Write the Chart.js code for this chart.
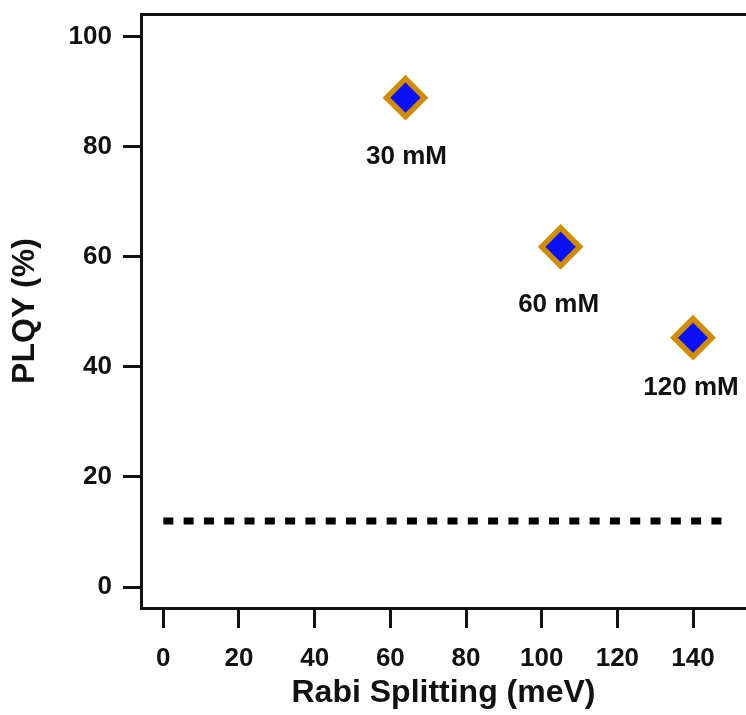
<!DOCTYPE html>
<html>
<head>
<meta charset="utf-8">
<script src="https://cdn.jsdelivr.net/npm/chart.js@4"></script>
<style>
  body { margin: 0; background: #fff; }
  canvas { display: block; }
</style>
</head>
<body>
<canvas id="plqyChart" width="746" height="715"></canvas>
<script>
const rabiSplitting = [64, 105, 140];
const plqy = [88.9, 61.8, 45.3];
const concentrations = ['30 mM', '60 mM', '120 mM'];

const referenceX = [0, 150];
const referenceY = [12, 12];

const xTicks = [0, 20, 40, 60, 80, 100, 120, 140];
const yTicks = [0, 20, 40, 60, 80, 100];

const fontFamily = 'Arial, "Liberation Sans", sans-serif';
const ink = '#111';

// where each concentration text sits relative to its diamond, in px
const labelShift = [[1, 59], [-2, 58], [-2, 50]];

const toPoints = (xs, ys) => xs.map((x, i) => ({ x, y: ys[i] }));
const fixTicks = (values) => (scale) => { scale.ticks = values.map((value) => ({ value })); };

// force the axis boxes so the plot frame lands where the picture has it
const fitBox = (size) => (scale) => {
  if (scale.isHorizontal()) scale.height = size;
  else scale.width = size;
  scale.paddingTop = 0;
  scale.paddingBottom = 0;
  scale.paddingLeft = 0;
  scale.paddingRight = 0;
};

const pointLabels = {
  id: 'pointLabels',
  afterDatasetsDraw(chart) {
    const { ctx } = chart;
    const meta = chart.getDatasetMeta(1);
    ctx.save();
    ctx.font = `bold 26px ${fontFamily}`;
    ctx.fillStyle = ink;
    ctx.textAlign = 'center';
    ctx.textBaseline = 'middle';
    meta.data.forEach((el, i) => {
      const [dx, dy] = labelShift[i];
      ctx.fillText(concentrations[i], el.x + dx, el.y + dy);
    });
    ctx.restore();
  },
};

new Chart(document.querySelector('#plqyChart'), {
  type: 'scatter',
  data: {
    datasets: [{
      type: 'line',
      data: toPoints(referenceX, referenceY),
      borderColor: '#000',
      borderWidth: 7,
      borderDash: [10, 10.3],
      borderCapStyle: 'butt',
      pointRadius: 0,
      fill: false,
    }, {
      data: toPoints(rabiSplitting, plqy),
      pointStyle: 'rectRot',
      pointRadius: 19,
      pointHoverRadius: 19,
      pointBorderWidth: 5.5,
      backgroundColor: '#0C10F8',
      borderColor: '#CF8C00',
    }],
  },
  options: {
    responsive: false,
    animation: false,
    layout: { padding: 0, autoPadding: false },
    plugins: { legend: { display: false }, tooltip: { enabled: false } },
    scales: {
      x: {
        type: 'linear',
        min: -5.9,
        max: 154,
        afterBuildTicks: fixTicks(xTicks),
        afterFit: fitBox(107),
        border: { display: true, color: ink, width: 3 },
        grid: { drawOnChartArea: false, color: ink, lineWidth: 3, tickLength: 20 },
        ticks: { color: ink, font: { family: fontFamily, size: 26, weight: 'bold' }, padding: 15, maxRotation: 0 },
        title: {
          display: true,
          text: 'Rabi Splitting (meV)',
          color: ink,
          font: { family: fontFamily, size: 32, weight: 'bold' },
          padding: { top: 0, bottom: 3 },
        },
      },
      xTop: {
        type: 'linear',
        position: 'top',
        min: -5.9,
        max: 154,
        afterFit: fitBox(14),
        border: { display: true, color: ink, width: 3 },
        grid: { display: false },
        ticks: { display: false },
      },
      y: {
        min: -3.8,
        max: 104.1,
        afterBuildTicks: fixTicks(yTicks),
        afterFit: fitBox(141),
        border: { display: true, color: ink, width: 3 },
        grid: { drawOnChartArea: false, color: ink, lineWidth: 3, tickLength: 18 },
        ticks: { color: ink, font: { family: fontFamily, size: 26, weight: 'bold' }, padding: 11 },
        title: {
          display: true,
          text: 'PLQY (%)',
          color: ink,
          font: { family: fontFamily, size: 32, weight: 'bold' },
          padding: { top: 6, bottom: 0 },
        },
      },
    },
  },
  plugins: [pointLabels],
});
</script>
</body>
</html>
